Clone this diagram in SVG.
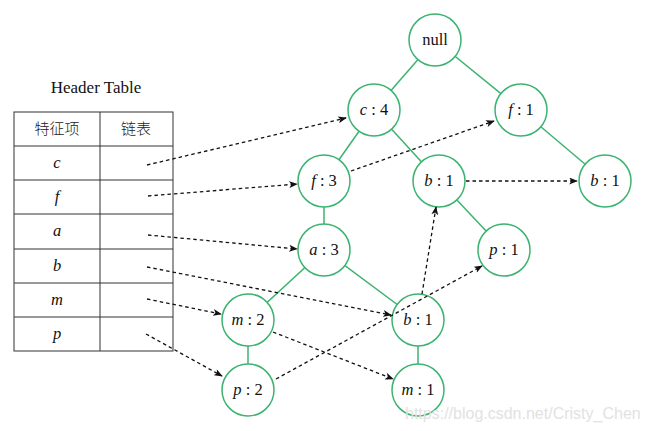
<svg xmlns="http://www.w3.org/2000/svg" width="647" height="431" viewBox="0 0 647 431">
<defs>
<style>
.node circle{fill:#fff;stroke:#3cb371;stroke-width:1.5}
.node text,.lbl{font-family:"Liberation Serif","DejaVu Serif",serif;font-size:16.5px;fill:#111;text-anchor:middle}
.hdr{font-size:17px}
.it{font-style:italic}
.edge{stroke:#3cb371;stroke-width:1.5;fill:none}
.link{stroke:#111;stroke-width:1.3;stroke-dasharray:3.5 3;fill:none;marker-end:url(#ah)}
.tbl{fill:none;stroke:#333;stroke-width:1}
.cjk{font-family:"Noto Sans CJK SC","Noto Sans CJK JP",sans-serif;font-size:15px;fill:#222;text-anchor:middle;font-weight:300}
.wm{font-family:"Liberation Sans",Arial,sans-serif;font-size:16px;fill:#e2e2e2}
</style>
<marker id="ah" viewBox="0 0 10 8" refX="9" refY="4" markerWidth="9" markerHeight="7" markerUnits="userSpaceOnUse" orient="auto">
<path d="M0,0 L10,4 L0,8 L2.5,4 z" fill="#111"/>
</marker>
</defs>
<rect width="647" height="431" fill="#fff"/>

<g id="header-table">
<text class="lbl hdr" x="96" y="93">Header Table</text>
<rect class="tbl" x="14" y="112" width="159" height="239"/>
<line class="tbl" x1="100" y1="112" x2="100" y2="351"/>
<line class="tbl" x1="14" y1="146" x2="173" y2="146"/>
<line class="tbl" x1="14" y1="180" x2="173" y2="180"/>
<line class="tbl" x1="14" y1="214" x2="173" y2="214"/>
<line class="tbl" x1="14" y1="249" x2="173" y2="249"/>
<line class="tbl" x1="14" y1="283" x2="173" y2="283"/>
<line class="tbl" x1="14" y1="317" x2="173" y2="317"/>
<text class="cjk" x="57" y="134">特征项</text>
<text class="cjk" x="136" y="134">链表</text>
<text class="lbl it" x="57" y="168">c</text>
<text class="lbl it" x="57" y="202">f</text>
<text class="lbl it" x="57" y="236">a</text>
<text class="lbl it" x="57" y="271">b</text>
<text class="lbl it" x="57" y="305">m</text>
<text class="lbl it" x="57" y="339">p</text>
</g>

<g id="tree-edges">
<line class="edge" x1="435" y1="40" x2="374" y2="110"/>
<line class="edge" x1="435" y1="40" x2="521" y2="110"/>
<line class="edge" x1="374" y1="110" x2="324" y2="181"/>
<line class="edge" x1="374" y1="110" x2="439" y2="181"/>
<line class="edge" x1="521" y1="110" x2="605" y2="181"/>
<line class="edge" x1="324" y1="181" x2="324" y2="250"/>
<line class="edge" x1="439" y1="181" x2="504" y2="250"/>
<line class="edge" x1="324" y1="250" x2="248" y2="320"/>
<line class="edge" x1="324" y1="250" x2="418" y2="320"/>
<line class="edge" x1="248" y1="320" x2="248" y2="390"/>
<line class="edge" x1="418" y1="320" x2="418" y2="390"/>
</g>

<g id="n-null" class="node"><circle cx="435" cy="40" r="26"/><text x="435" y="45">null</text></g>
<g id="n-c4" class="node"><circle cx="374" cy="110" r="26"/><text x="374" y="115"><tspan class="it">c</tspan> : 4</text></g>
<g id="n-f1" class="node"><circle cx="521" cy="110" r="26"/><text x="521" y="115"><tspan class="it">f</tspan> : 1</text></g>
<g id="n-f3" class="node"><circle cx="324" cy="181" r="26"/><text x="324" y="186"><tspan class="it">f</tspan> : 3</text></g>
<g id="n-b1a" class="node"><circle cx="439" cy="181" r="26"/><text x="439" y="186"><tspan class="it">b</tspan> : 1</text></g>
<g id="n-b1b" class="node"><circle cx="605" cy="181" r="26"/><text x="605" y="186"><tspan class="it">b</tspan> : 1</text></g>
<g id="n-a3" class="node"><circle cx="324" cy="250" r="26"/><text x="324" y="255"><tspan class="it">a</tspan> : 3</text></g>
<g id="n-p1" class="node"><circle cx="504" cy="250" r="26"/><text x="504" y="255"><tspan class="it">p</tspan> : 1</text></g>
<g id="n-m2" class="node"><circle cx="248" cy="320" r="26"/><text x="248" y="325"><tspan class="it">m</tspan> : 2</text></g>
<g id="n-b1c" class="node"><circle cx="418" cy="320" r="26"/><text x="418" y="325"><tspan class="it">b</tspan> : 1</text></g>
<g id="n-p2" class="node"><circle cx="248" cy="390" r="26"/><text x="248" y="395"><tspan class="it">p</tspan> : 2</text></g>
<g id="n-m1" class="node"><circle cx="418" cy="390" r="26"/><text x="418" y="395"><tspan class="it">m</tspan> : 1</text></g>

<g id="links">
<line class="link" x1="147" y1="165" x2="346" y2="118"/>
<line class="link" x1="148" y1="196" x2="297" y2="184"/>
<line class="link" x1="148" y1="235" x2="297" y2="249"/>
<line class="link" x1="147" y1="267" x2="391" y2="315"/>
<line class="link" x1="147" y1="299" x2="221" y2="314"/>
<line class="link" x1="146" y1="334" x2="222" y2="376"/>
<line class="link" x1="351" y1="171" x2="494" y2="121"/>
<line class="link" x1="466" y1="181" x2="577" y2="181"/>
<line class="link" x1="422" y1="294" x2="436" y2="207"/>
<line class="link" x1="276" y1="379" x2="482" y2="266"/>
<line class="link" x1="273" y1="332" x2="393" y2="379"/>
</g>

<text class="wm" x="405" y="419">https://blog.csdn.net/Cristy_Chen</text>
</svg>
